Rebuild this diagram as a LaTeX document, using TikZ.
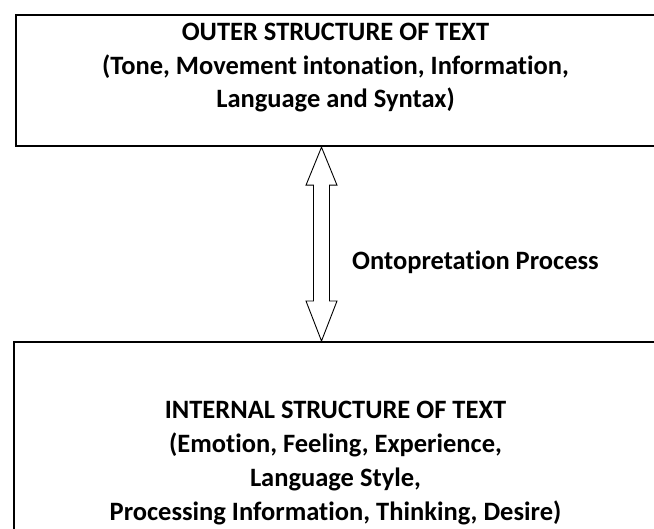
\documentclass[tikz,border=0pt]{standalone}
\usepackage{fontspec}
\setmainfont[Ligatures={NoCommon}]{Carlito}
\usetikzlibrary{calc}
\begin{document}
\begin{tikzpicture}[x=1pt,y=-1pt,
  box/.style={draw=black,line width=2.2pt,inner sep=0pt,anchor=north west},
  lbl/.style={font=\bfseries\fontsize{26.5}{32}\selectfont,inner sep=0pt,anchor=base},
  dblarrow/.style={draw=black,line width=0.9pt,fill=white,line join=miter}]
\useasboundingbox (0,0) rectangle (654,529);
% boxes
\node[box,minimum width=650pt,minimum height=131pt] (outer) at (15,14) {};
\node[box,minimum width=650pt,minimum height=200pt] (inner) at (13,341) {};
% texts of the outer box
\node[lbl] (o1) at (335.5,41) {OUTER STRUCTURE OF TEXT};
\node[lbl] (o2) at (335.5,75) {(Tone, Movement intonation, Information,};
\node[lbl] (o3) at (335.5,108) {Language and Syntax)};
% texts of the inner box
\node[lbl] (i1) at (335.5,419) {INTERNAL STRUCTURE OF TEXT};
\node[lbl] (i2) at (335.5,453) {(Emotion, Feeling, Experience,};
\node[lbl] (i3) at (335.5,487) {Language Style,};
\node[lbl] (i4) at (335.5,520) {Processing Information, Thinking, Desire)};
% double arrow between the boxes
\coordinate (atop) at (outer.south west -| 321.5,0);
\coordinate (abot) at (inner.north west -| 321.5,0);
\draw[dblarrow] (atop)
  -- ++(15.5,38) -- ++(-7.5,0) |- ($(abot)+(8,-40)$)
  -- ++(7.5,0) -- (abot) -- ++(-15.5,-40) -- ++(7.5,0)
  |- ($(atop)+(-8,38)$) -- ++(-7.5,0) -- cycle;
\node[lbl,anchor=base west] (proc) at (352,270) {Ontopretation Process};
\end{tikzpicture}
\end{document}
